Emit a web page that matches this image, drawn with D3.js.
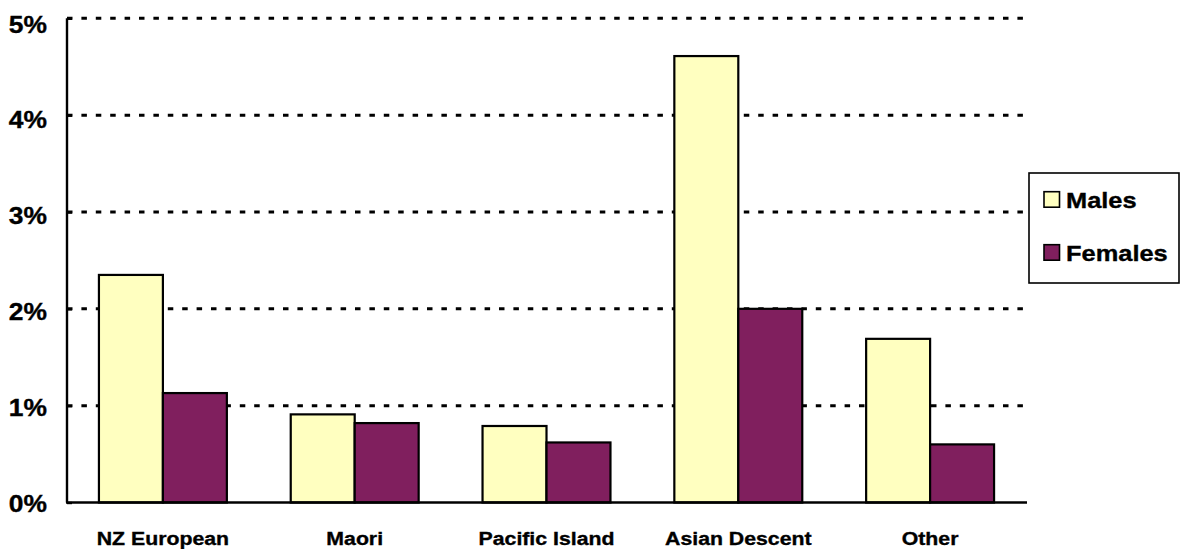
<!DOCTYPE html>
<html>
<head>
<meta charset="utf-8">
<script src="https://cdn.jsdelivr.net/npm/d3@7"></script>
<style>
  html, body { margin: 0; padding: 0; background: #fff; }
  svg { display: block; }
  text { font-family: "Liberation Sans", Arial, sans-serif; font-weight: bold; fill: #000; stroke: #000; stroke-width: 0.35px; }
</style>
</head>
<body>
<svg id="chart" width="1183" height="549"></svg>
<script>
// Ethnic groups and the share (%) in each, by sex
const categories = ["NZ European", "Maori", "Pacific Island", "Asian Descent", "Other"];
const males   = [2.35, 0.91, 0.79, 4.61, 1.69];
const females = [1.13, 0.82, 0.62, 2.00, 0.60];
const seriesNames = ["Males", "Females"];
const seriesColors = ["#FFFFC0", "#801F5E"];
const yTicks = [0, 1, 2, 3, 4, 5];
const yTickLabels = ["0%", "1%", "2%", "3%", "4%", "5%"];

const svg = d3.select("#chart");

const x = d3.scaleBand().domain(categories).range([67, 1026]).paddingInner(0.333).paddingOuter(0.1665);
const xs = d3.scaleBand().domain(seriesNames).range([0, x.bandwidth()]);
const y = d3.scaleLinear().domain([0, 5]).range([502.5, 18.3]);
// label centres sit slightly below their grid lines
const yLab = d3.scaleLinear().domain([0, 5]).range([503.5, 24]);

// dotted horizontal grid lines
svg.append("g").selectAll("line").data(yTicks.filter(d => d > 0)).join("line")
  .attr("x1", 67).attr("x2", 1024)
  .attr("y1", d => y(d)).attr("y2", d => y(d))
  .attr("stroke", "#000").attr("stroke-width", 3)
  .attr("stroke-dasharray", "5.5,8.9");

// bars
const series = [males, females];
const bars = svg.append("g");
series.forEach((vals, si) => {
  bars.selectAll(null).data(categories).join("rect")
    .attr("x", c => x(c) + xs(seriesNames[si]))
    .attr("width", xs.bandwidth())
    .attr("y", (c, i) => y(vals[i]))
    .attr("height", (c, i) => y(0) - y(vals[i]))
    .attr("fill", seriesColors[si])
    .attr("stroke", "#000").attr("stroke-width", 2.2);
});

// axes
const yAxis = svg.append("g").attr("transform", "translate(67,0)")
  .call(d3.axisRight(y).tickValues(yTicks).tickSize(5).tickFormat(""));
yAxis.select(".domain").attr("d", `M0,${y(5)}V${y(0)}`).attr("stroke-width", 2.4);
yAxis.selectAll(".tick line").attr("stroke-width", 2.4);

const xAxis = svg.append("g").attr("transform", `translate(0,${y(0)})`)
  .call(d3.axisBottom(x).tickSize(0).tickFormat(""));
xAxis.select(".domain").attr("d", "M66,0H1027").attr("stroke-width", 2.4);

// y tick labels
svg.append("g").selectAll("text").data(yTicks).join("text")
  .attr("transform", d => `translate(47,${yLab(d) + 8.5}) scale(1.1,1)`)
  .attr("text-anchor", "end")
  .style("font-size", "24px")
  .text((d, i) => yTickLabels[i]);

// category labels
svg.append("g").selectAll("text").data(categories).join("text")
  .attr("transform", c => `translate(${x(c) + x.bandwidth() / 2},545) scale(1.15,1)`)
  .attr("text-anchor", "middle")
  .style("font-size", "18.5px")
  .text(c => c);

// legend
const legend = svg.append("g");
legend.append("rect")
  .attr("x", 1029).attr("y", 173).attr("width", 150).attr("height", 110)
  .attr("fill", "#fff").attr("stroke", "#000").attr("stroke-width", 1.6);
const ly = d3.scalePoint().domain(seriesNames).range([199.5, 252.5]);
seriesNames.forEach((name, i) => {
  legend.append("rect")
    .attr("x", 1044).attr("y", ly(name) - 7.8).attr("width", 15.5).attr("height", 15.5)
    .attr("fill", seriesColors[i]).attr("stroke", "#000").attr("stroke-width", 1.6);
  legend.append("text")
    .attr("transform", `translate(1066,${ly(name) + 8}) scale(1.13,1)`)
    .style("font-size", "22.5px")
    .text(name);
});
</script>
</body>
</html>
